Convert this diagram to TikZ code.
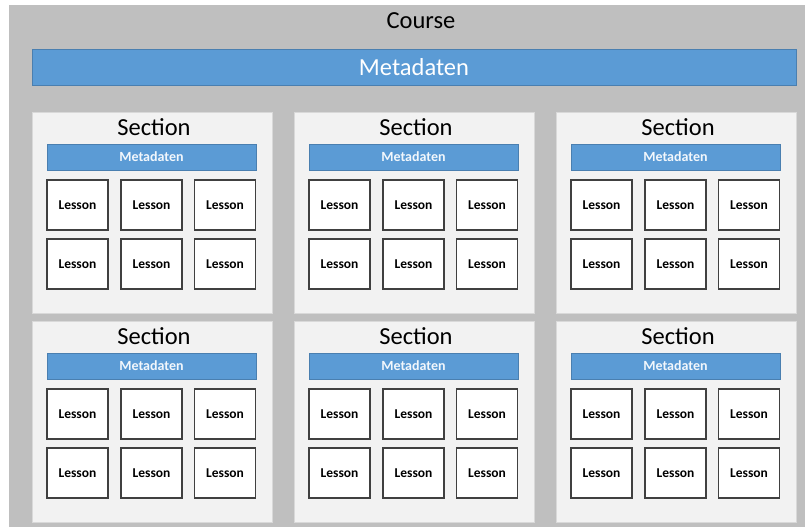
\documentclass[tikz,border=0pt]{standalone}
\usepackage{fontspec}
\setmainfont{Carlito}
\definecolor{coursegray}{HTML}{BFBFBF}
\definecolor{secfill}{HTML}{F2F2F2}
\definecolor{secline}{HTML}{D9D9D9}
\definecolor{metablue}{HTML}{5B9BD5}
\definecolor{metaline}{HTML}{4A7FB0}
\definecolor{lessonline}{HTML}{404040}
\tikzset{
  coursebox/.style={fill=coursegray, draw=none, inner sep=0pt},
  titletext/.style={font=\fontsize{24.5}{28}\selectfont, text=black, inner sep=0pt},
  bigmeta/.style={fill=metablue, draw=metaline, line width=0.8pt, minimum width=764pt, minimum height=36pt, inner sep=0pt, text=white, font=\fontsize{24.5}{28}\selectfont},
  secbox/.style={fill=secfill, draw=secline, line width=0.8pt, minimum width=240pt, minimum height=201pt, inner sep=0pt},
  smallmeta/.style={fill=metablue, draw=metaline, line width=0.6pt, minimum width=209pt, minimum height=26pt, inner sep=0pt, text=white!92!metablue, font=\bfseries\fontsize{14}{16}\selectfont},
  lessonbox/.style={fill=white, draw=lessonline, line width=1.3pt, minimum width=61pt, minimum height=50pt, inner sep=0pt, font=\bfseries\fontsize{13.5}{15}\selectfont}
}
\begin{document}
\begin{tikzpicture}[x=1pt,y=-1pt]
\useasboundingbox (0,0) rectangle (805,527);
\fill[white] (0,0) rectangle (805,527);
\node[coursebox, minimum width=796pt, minimum height=522pt] (course) at (407,266) {};
\node[titletext] (coursetitle) at (421,21) {Course};
\node[bigmeta] (meta) at (414,67) {Metadaten};
\foreach \r/\ty in {1/112, 2/321}{
  \foreach \c/\lx in {1/32, 2/294, 3/556}{
    \node[secbox] (s\r\c) at (\lx+120,\ty+100.5) {};
    \node[titletext] (st\r\c) at (\lx+122,\ty+15) {Section};
    \node[smallmeta] (sm\r\c) at (\lx+119.5,\ty+45) {Metadaten};
    \foreach \i/\oy in {1/93, 2/152}{
      \foreach \j/\ox in {1/45.5, 2/119.5, 3/193}{
        \node[lessonbox] (l\r\c\i\j) at (\lx+\ox,\ty+\oy) {Lesson};
      }
    }
  }
}
\end{tikzpicture}
\end{document}
